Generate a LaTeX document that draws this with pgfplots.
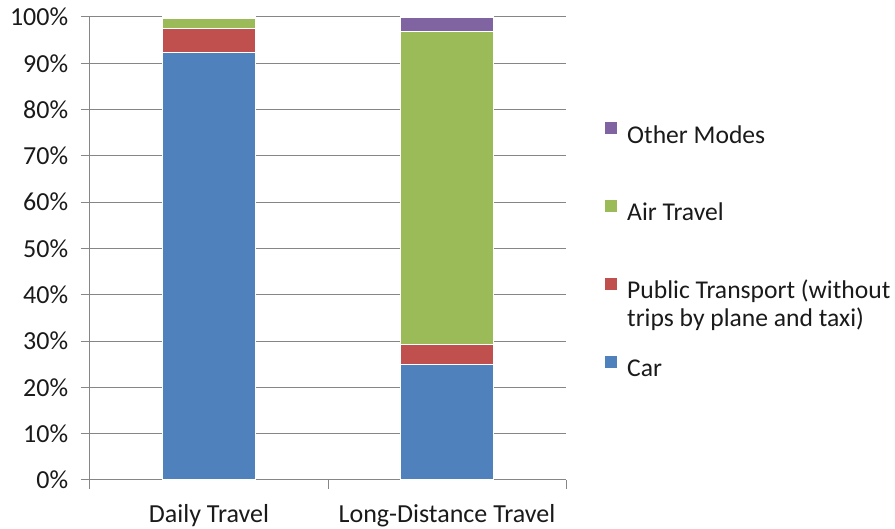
\documentclass[border=0pt]{standalone}
\usepackage{fontspec}
\setmainfont{Carlito}
\usepackage{pgfplots}
\pgfplotsset{compat=1.18}
\definecolor{cCar}{HTML}{4F81BD}
\definecolor{cPub}{HTML}{C0504D}
\definecolor{cAir}{HTML}{9BBB59}
\definecolor{cOth}{HTML}{8064A2}
\definecolor{axgray}{HTML}{868686}
\definecolor{txt}{HTML}{1A1A1A}
\begin{document}
\fontsize{26}{28}\selectfont
\begin{tikzpicture}[x=1pt,y=1pt]
\useasboundingbox (0,0) rectangle (895,529);
\begin{axis}[
  at={(90pt,49pt)}, anchor=south west,
  scale only axis, width=476pt, height=463pt,
  ybar stacked, bar width=0.39,
  xmin=-0.5, xmax=1.5, ymin=0, ymax=100,
  axis x line*=bottom, axis y line*=left,
  axis line style={draw=axgray, line width=1pt, -},
  xtick={-0.5,0.5,1.5}, xticklabels={},
  extra x ticks={0,1},
  extra x tick labels={Daily Travel, Long-Distance Travel},
  extra x tick style={major tick length=0pt, grid=none},
  ytick={0,10,...,100},
  yticklabel={\pgfmathprintnumber{\tick}\%},
  /pgf/number format/assume math mode=true,
  tick align=outside, major tick length=9pt,
  tick style={draw=axgray, line width=1pt},
  ymajorgrids, grid style={draw=axgray, line width=1pt},
  ticklabel style={font=\fontsize{26}{28}\selectfont, text=txt},
  x tick label style={yshift=-16pt},
  y tick label style={xshift=-4pt},
  reverse legend,
  legend cell align=left,
  legend image code/.code={\fill[#1,draw=none] (0pt,2.3pt) rectangle (12pt,14.3pt);},
  legend style={at={(axis description cs:1.082,0.773)}, anchor=north west,
    draw=none, fill=none, inner sep=0pt, row sep=51pt, column sep=10pt,
    font=\fontsize{25.6}{28}\selectfont, text=txt,
    nodes={inner sep=0pt, text height=19pt, text depth=6pt}},
]
\addplot[fill=cCar, draw=white, line width=1.2pt] coordinates {(0,92.3) (1,25.0)};
\addlegendentry{Car}
\addplot[fill=cPub, draw=white, line width=1.2pt] coordinates {(0,5.2) (1,4.3)};
\addlegendentry{\begin{tabular}[t]{@{}l@{}}Public Transport (without\\trips by plane and taxi)\end{tabular}}
\addplot[fill=cAir, draw=white, line width=1.2pt] coordinates {(0,2.2) (1,67.6)};
\addlegendentry{Air Travel}
\addplot[fill=cOth, draw=white, line width=1.2pt] coordinates {(0,0.3) (1,3.1)};
\addlegendentry{Other Modes}
\end{axis}
\end{tikzpicture}
\end{document}
